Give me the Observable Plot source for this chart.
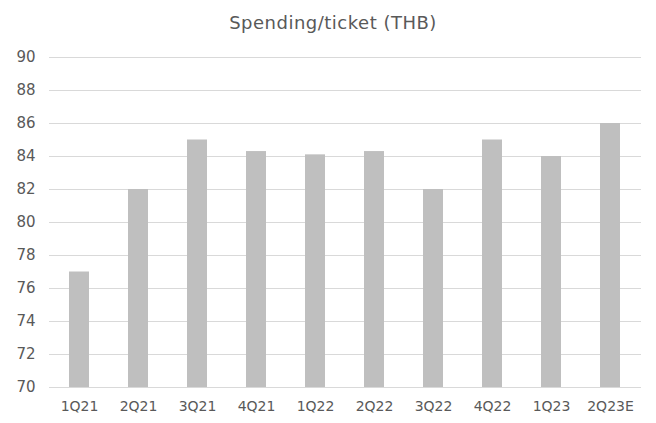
<!DOCTYPE html>
<html><head><meta charset="utf-8">
<script src="https://cdn.jsdelivr.net/npm/d3@7"></script>
<script src="https://cdn.jsdelivr.net/npm/@observablehq/plot@0.6"></script>
<style>
body{margin:0;background:#fff;font-family:"DejaVu Sans",sans-serif;}
#title{height:45px;box-sizing:border-box;padding-top:12px;text-align:center;font-size:18px;letter-spacing:0.5px;color:#595959;line-height:22px;padding-left:10px;}
</style></head><body>
<div id="title">Spending/ticket (THB)</div>
<div id="chart"></div>
<script>
const quarters = ["1Q21","2Q21","3Q21","4Q21","1Q22","2Q22","3Q22","4Q22","1Q23","2Q23E"];
const spending = [77, 82, 85, 84.3, 84.1, 84.3, 82, 85, 84, 86];
const yTicks = [70,72,74,76,78,80,82,84,86,88,90];
const data = quarters.map((q,i)=>({q, v: spending[i]}));
const chart = Plot.plot({
  width: 656, height: 378,
  marginLeft: 49, marginRight: 15, marginTop: 12, marginBottom: 36,
  style: {fontFamily: "'DejaVu Sans', sans-serif", fontSize: "14px", color: "#595959", background: "#fff"},
  x: {domain: quarters, paddingInner: 0.66, paddingOuter: 0.33},
  y: {domain: [70, 90]},
  marks: [
    Plot.gridY(yTicks, {stroke: "#d9d9d9", strokeOpacity: 1, strokeWidth: 1}),
    Plot.barY(data, {x: "q", y1: 70, y2: "v", fill: "#bfbfbf"}),
    Plot.ruleY([70], {stroke: "#d9d9d9"}),
    Plot.axisX({label: null, tickSize: 0, tickPadding: 14, fontSize: 14}),
    Plot.axisY(yTicks, {label: null, tickSize: 0, tickPadding: 14, fontSize: 15})
  ]
});
document.getElementById("chart").append(chart);
</script></body></html>
